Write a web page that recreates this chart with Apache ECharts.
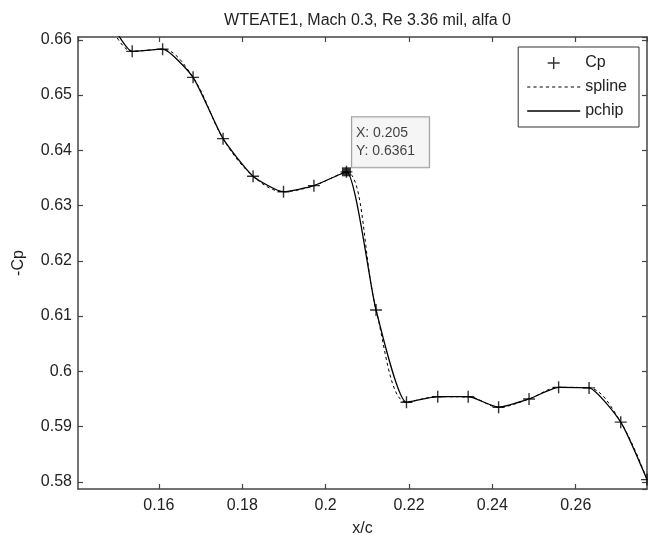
<!DOCTYPE html>
<html><head><meta charset="utf-8">
<script src="https://cdn.jsdelivr.net/npm/echarts@6/dist/echarts.min.js"></script>
<style>html,body{margin:0;padding:0;background:#fff}#c{width:648px;height:535px}</style>
</head><body><div id="c"></div>
<script>
// Data
const xc = [0.1463, 0.1536, 0.1609, 0.1682, 0.1754, 0.1826, 0.1899, 0.1972, 0.205, 0.2121,
            0.2194, 0.2269, 0.2342, 0.2415, 0.2488, 0.2559, 0.2632, 0.2708, 0.2771];
const cp = [0.6662, 0.6579, 0.6583, 0.6532, 0.6421, 0.6353, 0.6325, 0.6336, 0.6361, 0.6111,
            0.5944, 0.5954, 0.5954, 0.5935, 0.5950, 0.5971, 0.5970, 0.5908, 0.5804];
const tipX = 0.205, tipY = 0.6361;
const xRange = [0.1406, 0.2771];
const yRange = [0.5787, 0.6605];
const titleText = 'WTEATE1, Mach 0.3, Re 3.36 mil, alfa 0';
const seriesNames = ['Cp', 'spline', 'pchip'];

const pts = xc.map((x, i) => [x, cp[i]]);
const FONT = 'Liberation Sans, Arial, Helvetica, sans-serif';
const FS = 16;
const plus = 'path://M0,5.3H12V6.7H0Z M5.3,0H6.7V12H5.3Z';
// legend icons: a solid bar and a dashed bar
const solidIcon = 'path://M0,0H53V1.4H0Z';
let dashParts = [];
for (let s = 0; s < 53; s += 6) dashParts.push('M' + s + ',0H' + Math.min(s + 3, 53) + 'V1H' + s + 'Z');
const dashIcon = 'path://' + dashParts.join(' ');

const axisLine = {show: true, lineStyle: {color: '#444', width: 1.5}};
const tickIn = {show: true, inside: true, length: 5, lineStyle: {color: '#444', width: 1.2}};
const txt = {fontFamily: FONT, fontSize: FS, color: '#222'};

const chart = echarts.init(document.getElementById('c'));
chart.setOption({
  animation: false,
  backgroundColor: '#ffffff',
  title: {text: titleText, left: 362.5, textAlign: 'center', top: 8,
          textStyle: Object.assign({fontWeight: 'normal'}, txt)},
  grid: {left: 78, right: 1, top: 37, bottom: 46, containLabel: false, outerBoundsMode: 'none'},
  legend: {
    orient: 'vertical', right: 9, top: 47,
    data: [{name: seriesNames[0], icon: plus},
           {name: seriesNames[1], icon: dashIcon},
           {name: seriesNames[2], icon: solidIcon}],
    itemWidth: 53, itemHeight: 12, itemGap: 8, itemTextGap: 8,
    padding: [8, 12, 8, 9],
    borderColor: '#333', borderWidth: 1, backgroundColor: '#fff',
    textStyle: txt
  },
  xAxis: [{
    type: 'value', min: xRange[0], max: xRange[1], splitNumber: 7,
    name: 'x/c', nameLocation: 'middle', nameGap: 32, nameTextStyle: txt,
    axisLine, axisTick: tickIn, splitLine: {show: false},
    axisLabel: Object.assign({margin: 9, showMinLabel: false, showMaxLabel: false}, txt)
  }, {
    type: 'value', position: 'top', min: xRange[0], max: xRange[1], splitNumber: 7,
    axisLine, axisTick: tickIn, splitLine: {show: false}, axisLabel: {show: false}
  }],
  yAxis: [{
    type: 'value', min: yRange[0], max: yRange[1], splitNumber: 8,
    name: '-Cp', nameLocation: 'middle', nameGap: 51, nameTextStyle: txt,
    axisLine, axisTick: tickIn, splitLine: {show: false},
    axisLabel: Object.assign({margin: 6, showMinLabel: false, showMaxLabel: false}, txt)
  }, {
    type: 'value', position: 'right', min: yRange[0], max: yRange[1], splitNumber: 8,
    axisLine, axisTick: tickIn, splitLine: {show: false}, axisLabel: {show: false}
  }],
  series: [{
    name: seriesNames[0], type: 'scatter', data: pts, symbol: plus, symbolSize: 12,
    itemStyle: {color: '#000'}, clip: true, z: 4
  }, {
    name: seriesNames[1], type: 'line', data: pts, smooth: 0.35, symbol: 'none', showSymbol: false,
    lineStyle: {color: '#000', width: 1, type: [3, 3]}, itemStyle: {color: '#000'}, clip: true, z: 2
  }, {
    name: seriesNames[2], type: 'line', data: pts, smooth: 0.18, symbol: 'none', showSymbol: false,
    lineStyle: {color: '#000', width: 1.3}, itemStyle: {color: '#000'}, clip: true, z: 3
  }, {
    name: 'datatip', type: 'scatter', data: [[tipX, tipY]], symbol: 'rect', symbolSize: 9,
    itemStyle: {color: '#000'}, z: 6,
    label: {
      show: true, position: [10, -50], align: 'left', verticalAlign: 'top',
      formatter: () => 'X: ' + tipX + '\nY: ' + tipY,
      fontFamily: FONT, fontSize: 14, lineHeight: 18, color: '#111',
      backgroundColor: '#f2f2f2', borderColor: '#888', borderWidth: 1, padding: [7, 14, 7, 4]
    }
  }]
});
</script>
</body></html>
